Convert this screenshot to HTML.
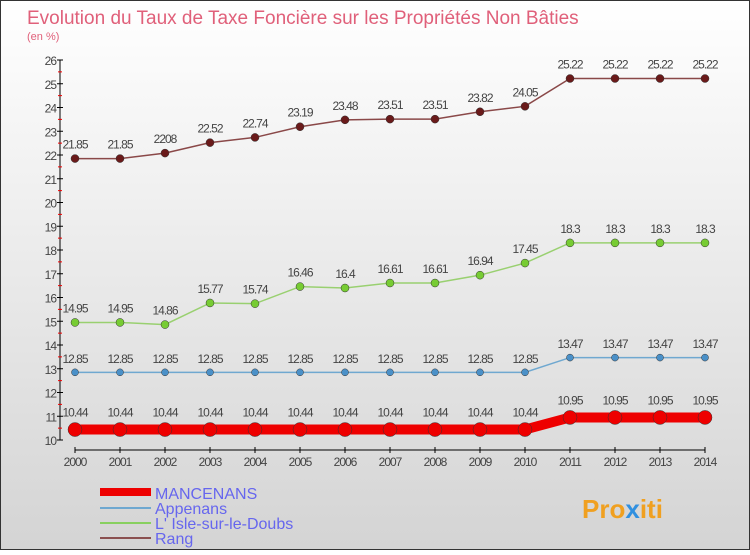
<!DOCTYPE html>
<html><head><meta charset="utf-8"><style>
body{margin:0;}
svg text{font-family:"Liberation Sans",sans-serif;}
</style></head><body>
<svg id="c" width="750" height="550" xmlns="http://www.w3.org/2000/svg">
<defs><linearGradient id="bg" x1="0" y1="0" x2="0" y2="1"><stop offset="0" stop-color="#ffffff"/><stop offset="1" stop-color="#d4d4d4"/></linearGradient></defs>
<rect x="0.5" y="0.5" width="749" height="549" fill="url(#bg)" stroke="#333"/>
<text x="27" y="24" font-size="19" fill="#e0607a">Evolution du Taux de Taxe Foncière sur les Propriétés Non Bâties</text>
<text x="27" y="40" font-size="11" fill="#e0607a">(en %)</text>
<g id="axes"></g>
<g id="series"></g>
<g>
<rect x="100" y="488" width="51" height="8" fill="#ee0000"/>
<text x="155" y="499" font-size="16" fill="#6666ee">MANCENANS</text>
<rect x="100" y="507" width="51" height="2" fill="#6fa8d0"/>
<text x="155" y="514" font-size="16" fill="#6666ee">Appenans</text>
<rect x="100" y="522" width="51" height="2" fill="#88d060"/>
<text x="155" y="529" font-size="16" fill="#6666ee">L' Isle-sur-le-Doubs</text>
<rect x="100" y="537" width="51" height="2" fill="#8a5050"/>
<text x="155" y="544" font-size="16" fill="#6666ee">Rang</text>
</g>
<text x="582" y="518" font-size="26" font-weight="bold" fill="#f0a020">Pro<tspan fill="#3090e0">x</tspan>iti</text>
</svg>
<script>
const years=[2000,2001,2002,2003,2004,2005,2006,2007,2008,2009,2010,2011,2012,2013,2014];
const yTicks=[10,11,12,13,14,15,16,17,18,19,20,21,22,23,24,25,26];
const mancenans=[10.44,10.44,10.44,10.44,10.44,10.44,10.44,10.44,10.44,10.44,10.44,10.95,10.95,10.95,10.95];
const appenans=[12.85,12.85,12.85,12.85,12.85,12.85,12.85,12.85,12.85,12.85,12.85,13.47,13.47,13.47,13.47];
const isle=[14.95,14.95,14.86,15.77,15.74,16.46,16.4,16.61,16.61,16.94,17.45,18.3,18.3,18.3,18.3];
const rang=[21.85,21.85,22.08,22.52,22.74,23.19,23.48,23.51,23.51,23.82,24.05,25.22,25.22,25.22,25.22];
const NS='http://www.w3.org/2000/svg';
const X=i=>75+i*45;
const Y=v=>440-(v-10)*23.75;
function mk(p,t,a){const e=document.createElementNS(NS,t);for(const k in a)e.setAttribute(k,a[k]);p.appendChild(e);return e;}
const ax=document.getElementById('axes');
const ya=mk(ax,'line',{x1:60,y1:60,x2:60,y2:440,stroke:'#000'});


yTicks.forEach(v=>{
  mk(ax,'line',{x1:57,y1:Y(v),x2:63,y2:Y(v),stroke:'#000'});
  if(v<26) mk(ax,'line',{x1:58,y1:Y(v+0.5),x2:62,y2:Y(v+0.5),stroke:'#e00'});
  const t=mk(ax,'text',{x:56,y:Y(v)+5,'font-size':12,'text-anchor':'end',fill:'#444','letter-spacing':'-1'});
  t.textContent=v;
  
  
});
const xa=mk(ax,'line',{x1:75,y1:450,x2:705,y2:450,stroke:'#000'});


years.forEach((y,i)=>{
  mk(ax,'line',{x1:X(i),y1:447,x2:X(i),y2:453,stroke:'#000'});
  const t=mk(ax,'text',{x:X(i),y:466,'font-size':12,'text-anchor':'middle',fill:'#444','letter-spacing':'-1'});
  t.textContent=y;
  
  
});
const sg=document.getElementById('series');
function series(name,data,color,dot,w,r){
  const g=mk(sg,'g',{});
  
  
  const pl=mk(g,'polyline',{points:data.map((v,i)=>X(i)+','+Y(v)).join(' '),fill:'none',stroke:color,'stroke-width':w});
  
  
  data.forEach((v,i)=>{
    const c=mk(g,'circle',{cx:X(i),cy:Y(v),r:r,fill:dot,stroke:'#333','stroke-width':0.5});
    
    
    const t=mk(g,'text',{x:X(i),y:Y(v)-(r+6),'font-size':12,'text-anchor':'middle',fill:'#444','letter-spacing':'-1'});
    t.textContent=String(v).replace('22.08','2208');
    
    
  });
}
series('rang',rang,'#8a4848','#6a1a1a',1.5,4);
series('isle',isle,'#99d070','#77cc33',1.5,4);
series('appenans',appenans,'#6fa8d0','#4a90c8',1.5,3.5);
series('mancenans',mancenans,'#ee0000','#ee0000',10,7);
</script>
</body></html>
